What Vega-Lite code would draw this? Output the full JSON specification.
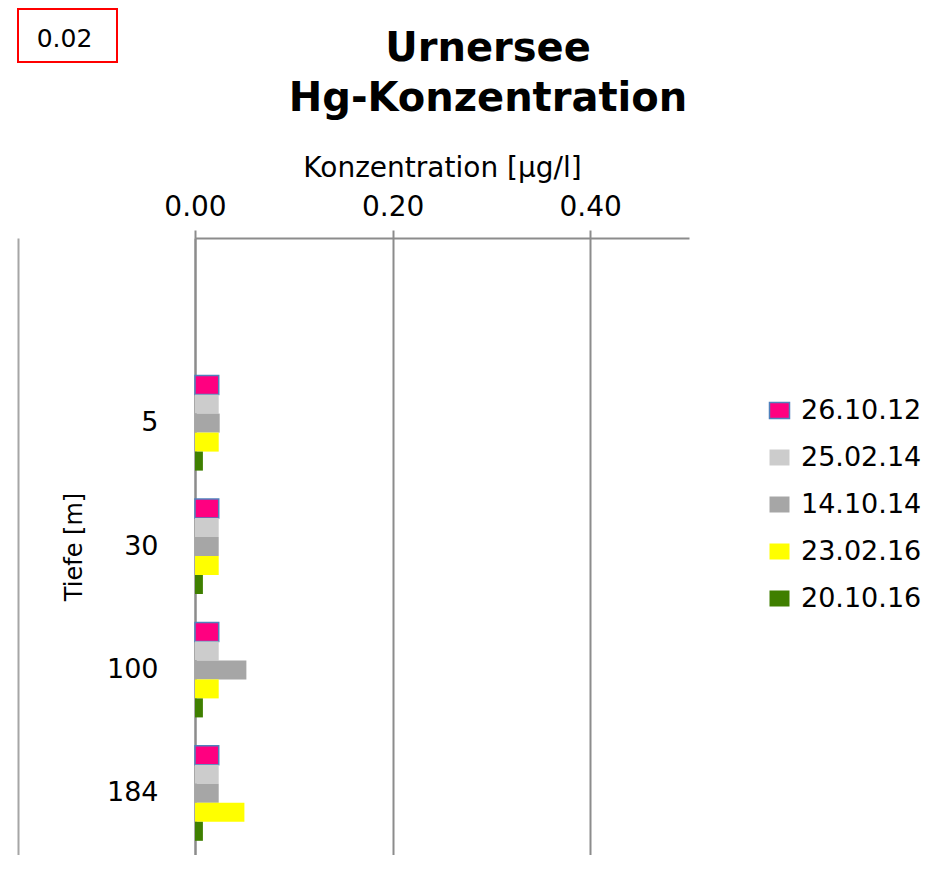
{
  "$schema": "https://vega.github.io/schema/vega-lite/v6.json",
  "padding": {"left": 17, "top": 8, "right": 0, "bottom": 0},
  "background": "white",
  "config": {"font": "DejaVu Sans", "view": {"stroke": null}},
  "columns": 2,
  "align": "each",
  "spacing": {"row": -34, "column": -100},
  "concat": [
    {
      "width": 99,
      "height": 53,
      "view": {"stroke": "#ff0000", "strokeWidth": 2},
      "data": {"values": [{"label": "0.02"}]},
      "mark": {"type": "text", "fontSize": 25, "font": "DejaVu Sans", "color": "black", "dx": -3, "dy": 3},
      "encoding": {"text": {"field": "label", "type": "nominal"}}
    },
    {
      "width": 1,
      "height": 1,
      "data": {"values": []},
      "mark": "text",
      "encoding": {}
    },
    {
      "width": 1,
      "height": 1,
      "data": {"values": []},
      "mark": "text",
      "encoding": {}
    },
    {
      "width": 494,
      "height": 617,
      "title": {
        "text": ["Urnersee", "Hg-Konzentration"],
        "font": "DejaVu Sans",
        "fontSize": 40,
        "fontWeight": "bold",
        "lineHeight": 50,
        "color": "black",
        "anchor": "middle",
        "frame": "group",
        "dx": 46,
        "offset": 35
      },
      "data": {
        "values": [
          {"depth": "5", "date": "26.10.12", "value": 0.024},
          {"depth": "5", "date": "25.02.14", "value": 0.024},
          {"depth": "5", "date": "14.10.14", "value": 0.025},
          {"depth": "5", "date": "23.02.16", "value": 0.024},
          {"depth": "5", "date": "20.10.16", "value": 0.008},
          {"depth": "30", "date": "26.10.12", "value": 0.024},
          {"depth": "30", "date": "25.02.14", "value": 0.024},
          {"depth": "30", "date": "14.10.14", "value": 0.024},
          {"depth": "30", "date": "23.02.16", "value": 0.024},
          {"depth": "30", "date": "20.10.16", "value": 0.008},
          {"depth": "100", "date": "26.10.12", "value": 0.024},
          {"depth": "100", "date": "25.02.14", "value": 0.024},
          {"depth": "100", "date": "14.10.14", "value": 0.052},
          {"depth": "100", "date": "23.02.16", "value": 0.024},
          {"depth": "100", "date": "20.10.16", "value": 0.008},
          {"depth": "184", "date": "26.10.12", "value": 0.024},
          {"depth": "184", "date": "25.02.14", "value": 0.024},
          {"depth": "184", "date": "14.10.14", "value": 0.024},
          {"depth": "184", "date": "23.02.16", "value": 0.05},
          {"depth": "184", "date": "20.10.16", "value": 0.008}
        ]
      },
      "layer": [
        {
          "mark": {"type": "bar", "strokeWidth": 1.5},
          "encoding": {
            "y": {
              "field": "depth",
              "type": "nominal",
              "scale": {"domain": ["", "5", "30", "100", "184"], "paddingInner": 0.23, "paddingOuter": 0.115},
              "axis": {
                "orient": "left",
                "title": "Tiefe [m]",
                "titleFontSize": 24,
                "titleFontWeight": "normal",
                "titleColor": "black",
                "titlePadding": 20,
                "labelFontSize": 27,
                "labelColor": "black",
                "labelPadding": 37,
                "ticks": false,
                "domainColor": "#8c8c8c",
                "domainWidth": 2,
                "grid": false
              }
            },
            "yOffset": {
              "field": "date",
              "type": "nominal",
              "scale": {"domain": ["26.10.12", "25.02.14", "14.10.14", "23.02.16", "20.10.16"], "paddingInner": 0, "paddingOuter": 0}
            },
            "x": {
              "field": "value",
              "type": "quantitative",
              "scale": {"domain": [0, 0.5], "nice": false},
              "axis": {
                "orient": "top",
                "values": [0, 0.2, 0.4],
                "format": ".2f",
                "labelFlush": false,
                "title": "Konzentration [µg/l]",
                "titleFontSize": 28,
                "titleFontWeight": "normal",
                "titleColor": "black",
                "titlePadding": 11,
                "labelFontSize": 28,
                "labelColor": "black",
                "labelPadding": 9,
                "tickSize": 8,
                "tickColor": "#8c8c8c",
                "tickWidth": 2,
                "domainColor": "#8c8c8c",
                "domainWidth": 2,
                "grid": true,
                "gridColor": "#8c8c8c",
                "gridWidth": 2
              }
            },
            "color": {
              "field": "date",
              "type": "nominal",
              "scale": {
                "domain": ["26.10.12", "25.02.14", "14.10.14", "23.02.16", "20.10.16"],
                "range": ["#ff0080", "#cccccc", "#a6a6a6", "#ffff00", "#3f7f00"]
              },
              "legend": {
                "title": null,
                "orient": "none",
                "legendX": 748,
                "legendY": 388,
                "labelFontSize": 27,
                "labelColor": "black",
                "labelOffset": 8,
                "symbolType": "M-1,-0.8H1V0.8H-1Z",
                "symbolSize": 400,
                "symbolStrokeWidth": 1.5,
                "rowPadding": 19,
                "padding": 0
              }
            },
            "stroke": {
              "field": "date",
              "type": "nominal",
              "scale": {
                "domain": ["26.10.12", "25.02.14", "14.10.14", "23.02.16", "20.10.16"],
                "range": ["#4f81bd", "transparent", "transparent", "transparent", "transparent"]
              },
              "legend": {
                "title": null,
                "orient": "none",
                "legendX": 748,
                "legendY": 388,
                "labelFontSize": 27,
                "labelColor": "black",
                "labelOffset": 8,
                "symbolType": "M-1,-0.8H1V0.8H-1Z",
                "symbolSize": 400,
                "symbolStrokeWidth": 1.5,
                "rowPadding": 19,
                "padding": 0
              }
            }
          }
        },
        {
          "mark": {"type": "point", "opacity": 0},
          "encoding": {
            "y": {
              "field": "depth",
              "type": "nominal",
              "axis": {
                "orient": "left",
                "offset": 177,
                "title": null,
                "labels": false,
                "ticks": false,
                "grid": false,
                "domain": true,
                "domainColor": "#a6a6a6",
                "domainWidth": 2
              }
            }
          }
        }
      ],
      "resolve": {"axis": {"y": "independent"}}
    }
  ]
}
